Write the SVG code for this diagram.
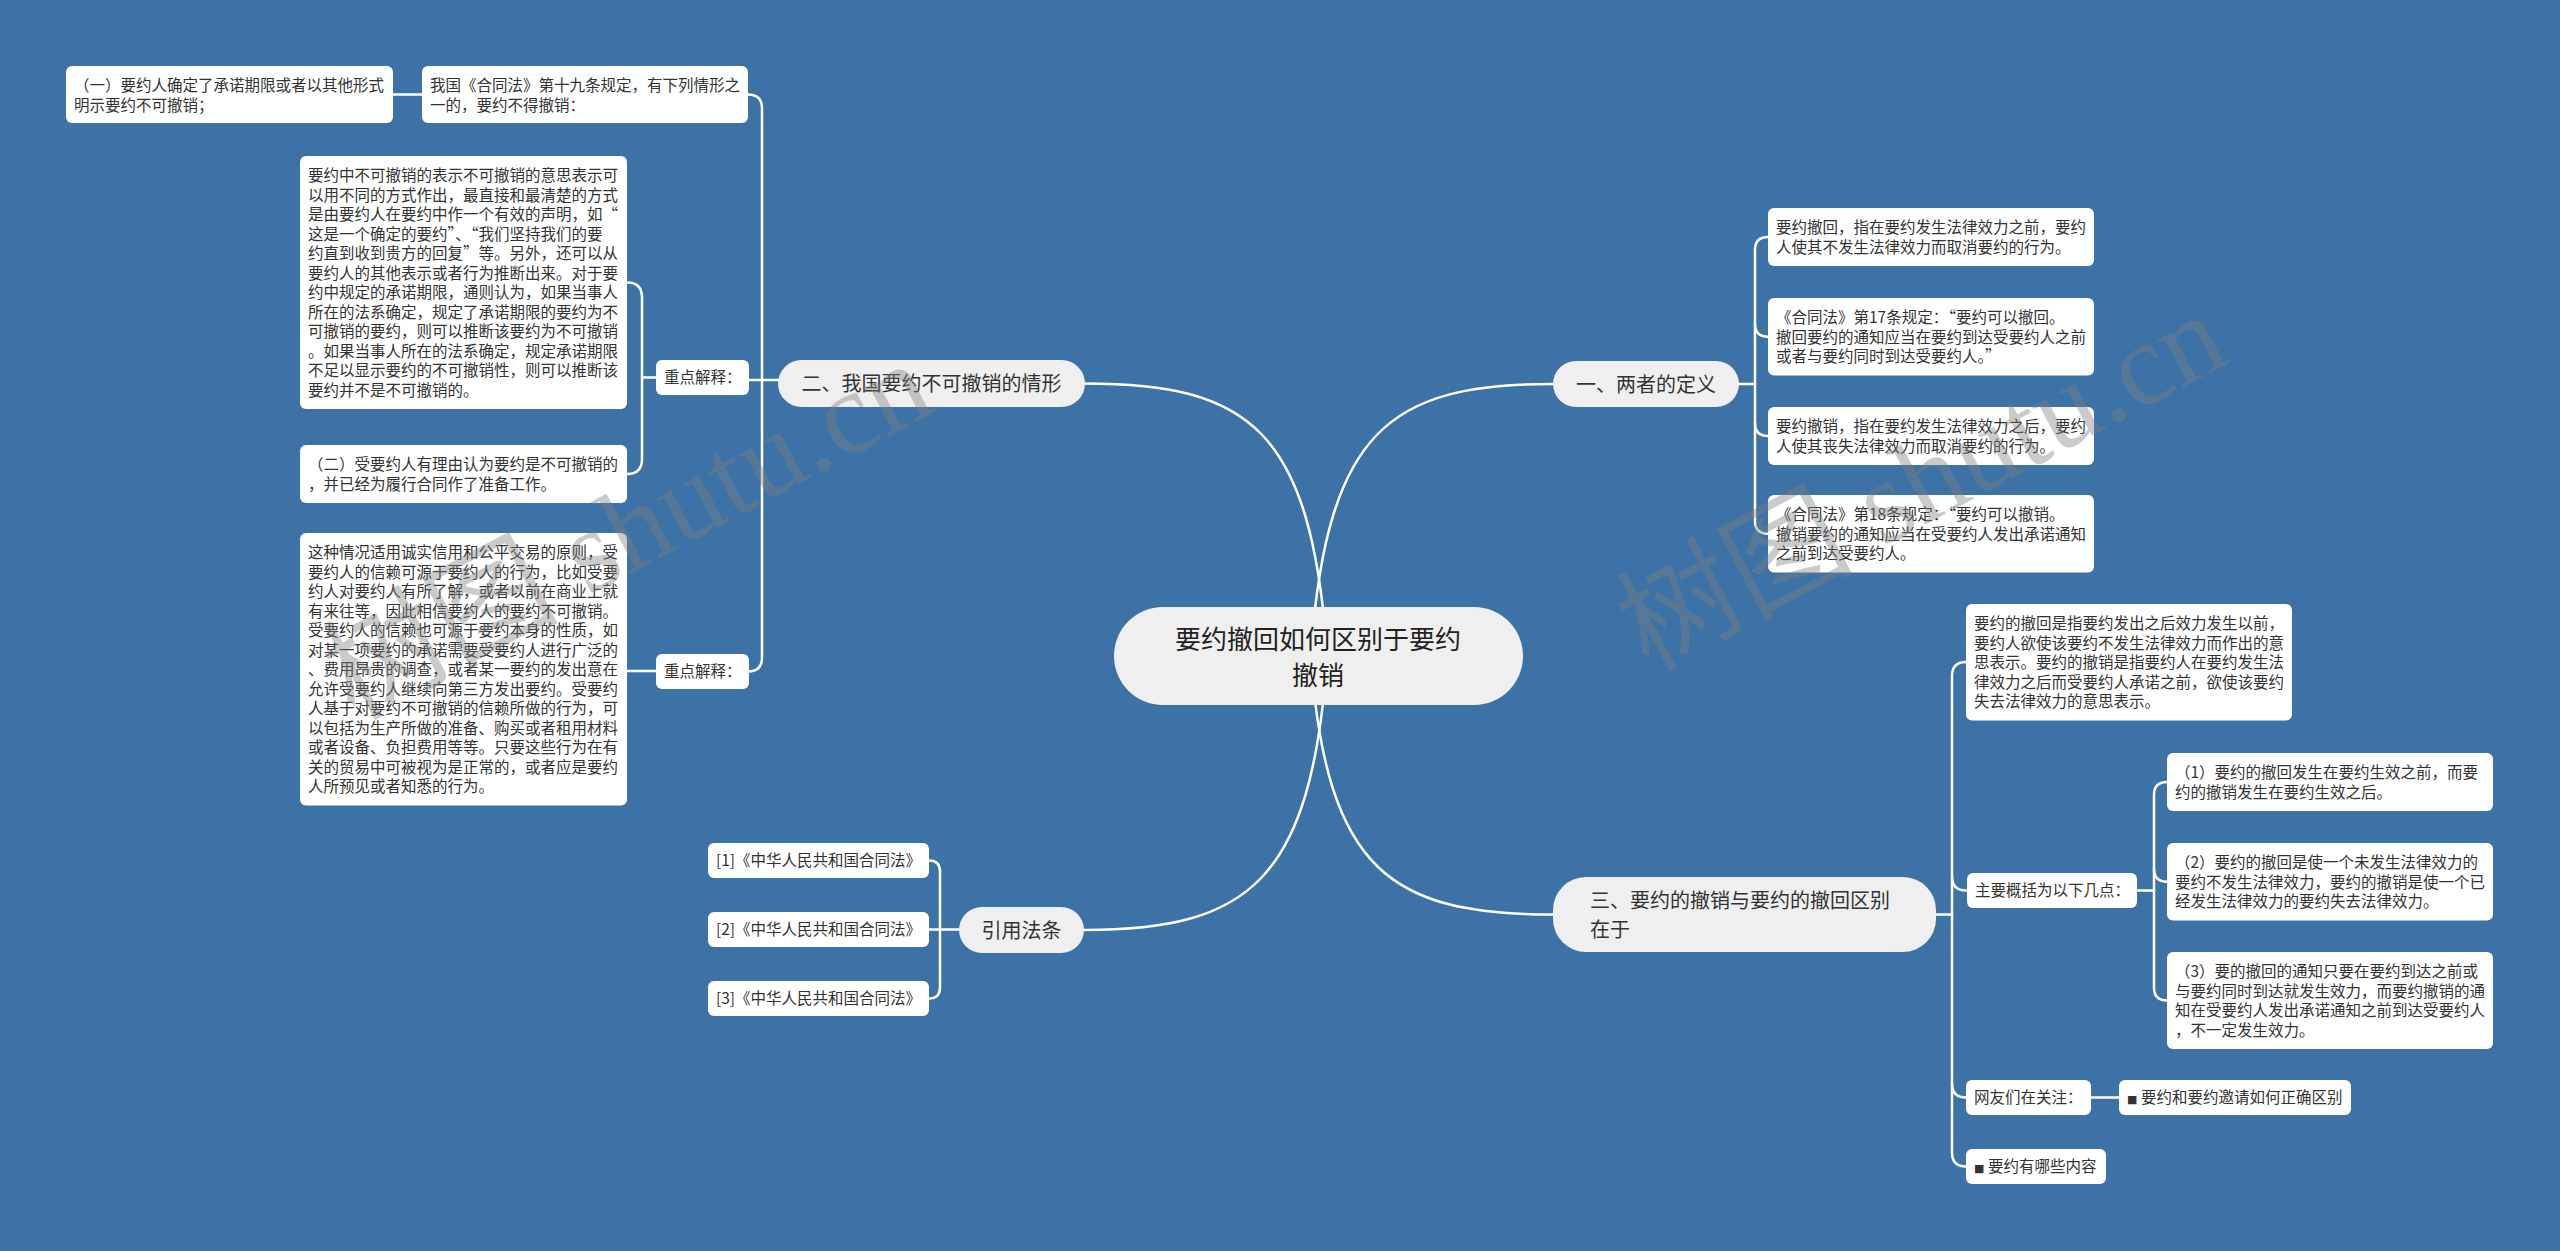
<svg xmlns="http://www.w3.org/2000/svg" width="2560" height="1251" viewBox="0 0 2560 1251">
<style>
.box{fill:#ffffff;}
.pill{fill:#efefef;}
.t{font-family:"Noto Sans CJK SC","Noto Sans",sans-serif;font-size:15.5px;fill:#333333;}
.tm{font-family:"Noto Sans CJK SC","Noto Sans",sans-serif;font-size:20px;fill:#333333;}
.tc{font-family:"Noto Sans CJK SC","Noto Sans",sans-serif;font-size:26px;fill:#222222;text-anchor:middle;}
.sq{font-family:"DejaVu Sans",sans-serif;font-size:11px;}
.c{fill:none;stroke:#ffffff;stroke-width:2.5;stroke-linecap:round;}
.wm{font-family:"Liberation Serif","Noto Sans CJK SC",serif;font-size:118px;fill:#808080;opacity:0.4;}
</style>
<rect x="0" y="0" width="2560" height="1251" fill="#3c72a6"/>

<g id="connectors">
  <path class="c" d="M1327,650 C1310,430 1250,383.5 1085,383.5"/>
  <path class="c" d="M1311,650 C1328,430 1390,384 1553,384"/>
  <path class="c" d="M1327,662 C1310,880 1250,930 1084,930"/>
  <path class="c" d="M1311,662 C1328,870 1390,914.5 1553,914.5"/>
  <path class="c" d="M748,94.5 Q762,94.5 762,108.5 L762,657.5 Q762,671.5 748,671.5"/>
  <path class="c" d="M748,380 L778,380"/>
  <path class="c" d="M393,94.5 L422,94.5"/>
  <path class="c" d="M627,282.5 Q642,282.5 642,297.5 L642,459 Q642,474 627,474"/>
  <path class="c" d="M642,377.5 L656,377.5"/>
  <path class="c" d="M627,671 L656,671"/>
  <path class="c" d="M929,860.5 Q940,860.5 940,871.5 L940,987.5 Q940,998.5 929,998.5"/>
  <path class="c" d="M929,929.5 L959,929.5"/>
  <path class="c" d="M1768,237 Q1755,237 1755,250 L1755,520.75 Q1755,533.75 1768,533.75"/>
  <path class="c" d="M1755,323.75 Q1755,336.75 1768,336.75"/>
  <path class="c" d="M1755,423 Q1755,436 1768,436"/>
  <path class="c" d="M1739,384 L1755,384"/>
  <path class="c" d="M1966,662 Q1952,662 1952,676 L1952,1152.5 Q1952,1166.5 1966,1166.5"/>
  <path class="c" d="M1952,876.5 Q1952,890.5 1966,890.5"/>
  <path class="c" d="M1952,1083.5 Q1952,1097.5 1966,1097.5"/>
  <path class="c" d="M1936,914.5 L1952,914.5"/>
  <path class="c" d="M2167,782 Q2154,782 2154,795 L2154,987.5 Q2154,1000.5 2167,1000.5"/>
  <path class="c" d="M2154,868.75 Q2154,881.75 2167,881.75"/>
  <path class="c" d="M2137,890.5 L2154,890.5"/>
  <path class="c" d="M2091,1097.5 L2119,1097.5"/>
</g>

<g id="center">
  <rect class="pill" x="1114" y="607" width="409" height="98" rx="49"/>
  <text class="tc" x="1318" y="649">要约撤回如何区别于要约</text>
  <text class="tc" x="1318" y="685">撤销</text>
</g>

<g id="b2">
  <rect class="pill" x="778" y="360" width="307" height="47" rx="23.5"/>
  <text class="tm" x="931.5" y="391" text-anchor="middle">二、我国要约不可撤销的情形</text>
</g>
<g id="a2">
  <rect class="box" x="422" y="66" width="326" height="57" rx="6"/>
  <text class="t" x="430" y="91">我国《合同法》第十九条规定，有下列情形之<tspan x="430" dy="19.5">一的，要约不得撤销：</tspan></text>
</g>
<g id="a1">
  <rect class="box" x="66" y="66" width="327" height="57" rx="6"/>
  <text class="t" x="74" y="91">（一）要约人确定了承诺期限或者以其他形式<tspan x="74" dy="19.5">明示要约不可撤销；</tspan></text>
</g>
<g id="k1">
  <rect class="box" x="656" y="360" width="93" height="35" rx="6"/>
  <text class="t" x="664" y="383.4">重点解释：</text>
</g>
<g id="a3">
  <rect class="box" x="300" y="156" width="327" height="253" rx="6"/>
  <text class="t" x="308" y="181">要约中不可撤销的表示不可撤销的意思表示可<tspan x="308" dy="19.5">以用不同的方式作出，最直接和最清楚的方式</tspan><tspan x="308" dy="19.5">是由要约人在要约中作一个有效的声明，如“</tspan><tspan x="308" dy="19.5">这是一个确定的要约”、“我们坚持我们的要</tspan><tspan x="308" dy="19.5">约直到收到贵方的回复”等。另外，还可以从</tspan><tspan x="308" dy="19.5">要约人的其他表示或者行为推断出来。对于要</tspan><tspan x="308" dy="19.5">约中规定的承诺期限，通则认为，如果当事人</tspan><tspan x="308" dy="19.5">所在的法系确定，规定了承诺期限的要约为不</tspan><tspan x="308" dy="19.5">可撤销的要约，则可以推断该要约为不可撤销</tspan><tspan x="308" dy="19.5">。如果当事人所在的法系确定，规定承诺期限</tspan><tspan x="308" dy="19.5">不足以显示要约的不可撤销性，则可以推断该</tspan><tspan x="308" dy="19.5">要约并不是不可撤销的。</tspan></text>
</g>
<g id="a4">
  <rect class="box" x="300" y="445" width="327" height="58" rx="6"/>
  <text class="t" x="308" y="470">（二）受要约人有理由认为要约是不可撤销的<tspan x="308" dy="19.5">，并已经为履行合同作了准备工作。</tspan></text>
</g>
<g id="k2">
  <rect class="box" x="656" y="654" width="93" height="35" rx="6"/>
  <text class="t" x="664" y="677.4">重点解释：</text>
</g>
<g id="a5">
  <rect class="box" x="300" y="533" width="327" height="272.5" rx="6"/>
  <text class="t" x="308" y="558">这种情况适用诚实信用和公平交易的原则，受<tspan x="308" dy="19.5">要约人的信赖可源于要约人的行为，比如受要</tspan><tspan x="308" dy="19.5">约人对要约人有所了解，或者以前在商业上就</tspan><tspan x="308" dy="19.5">有来往等，因此相信要约人的要约不可撤销。</tspan><tspan x="308" dy="19.5">受要约人的信赖也可源于要约本身的性质，如</tspan><tspan x="308" dy="19.5">对某一项要约的承诺需要受要约人进行广泛的</tspan><tspan x="308" dy="19.5">、费用昂贵的调查，或者某一要约的发出意在</tspan><tspan x="308" dy="19.5">允许受要约人继续向第三方发出要约。受要约</tspan><tspan x="308" dy="19.5">人基于对要约不可撤销的信赖所做的行为，可</tspan><tspan x="308" dy="19.5">以包括为生产所做的准备、购买或者租用材料</tspan><tspan x="308" dy="19.5">或者设备、负担费用等等。只要这些行为在有</tspan><tspan x="308" dy="19.5">关的贸易中可被视为是正常的，或者应是要约</tspan><tspan x="308" dy="19.5">人所预见或者知悉的行为。</tspan></text>
</g>

<g id="refs">
  <rect class="pill" x="959" y="907" width="125" height="46" rx="23"/>
  <text class="tm" x="1021.5" y="937.6" text-anchor="middle">引用法条</text>
</g>
<g id="ref1">
  <rect class="box" x="708" y="843" width="221" height="35" rx="6"/>
  <text class="t" x="716" y="866.4">[1]《中华人民共和国合同法》</text>
</g>
<g id="ref2">
  <rect class="box" x="708" y="912" width="221" height="35" rx="6"/>
  <text class="t" x="716" y="935.4">[2]《中华人民共和国合同法》</text>
</g>
<g id="ref3">
  <rect class="box" x="708" y="981" width="221" height="35" rx="6"/>
  <text class="t" x="716" y="1004.4">[3]《中华人民共和国合同法》</text>
</g>

<g id="b1">
  <rect class="pill" x="1553" y="361" width="186" height="46" rx="23"/>
  <text class="tm" x="1646" y="391.6" text-anchor="middle">一、两者的定义</text>
</g>
<g id="r1">
  <rect class="box" x="1768" y="208" width="326" height="58" rx="6"/>
  <text class="t" x="1776" y="233">要约撤回，指在要约发生法律效力之前，要约<tspan x="1776" dy="19.5">人使其不发生法律效力而取消要约的行为。</tspan></text>
</g>
<g id="r2">
  <rect class="box" x="1768" y="298" width="326" height="77.5" rx="6"/>
  <text class="t" x="1776" y="323">《合同法》第17条规定：“要约可以撤回。<tspan x="1776" dy="19.5">撤回要约的通知应当在要约到达受要约人之前</tspan><tspan x="1776" dy="19.5">或者与要约同时到达受要约人。”</tspan></text>
</g>
<g id="r3">
  <rect class="box" x="1768" y="407" width="326" height="58" rx="6"/>
  <text class="t" x="1776" y="432">要约撤销，指在要约发生法律效力之后，要约<tspan x="1776" dy="19.5">人使其丧失法律效力而取消要约的行为。</tspan></text>
</g>
<g id="r4">
  <rect class="box" x="1768" y="495" width="326" height="77.5" rx="6"/>
  <text class="t" x="1776" y="520">《合同法》第18条规定：“要约可以撤销。<tspan x="1776" dy="19.5">撤销要约的通知应当在受要约人发出承诺通知</tspan><tspan x="1776" dy="19.5">之前到达受要约人。</tspan></text>
</g>

<g id="b3">
  <rect class="pill" x="1553" y="877" width="383" height="75" rx="33"/>
  <text class="tm" x="1590" y="907.6">三、要约的撤销与要约的撤回区别<tspan x="1590" dy="29">在于</tspan></text>
</g>
<g id="r5">
  <rect class="box" x="1966" y="604" width="326" height="116.5" rx="6"/>
  <text class="t" x="1974" y="629">要约的撤回是指要约发出之后效力发生以前，<tspan x="1974" dy="19.5">要约人欲使该要约不发生法律效力而作出的意</tspan><tspan x="1974" dy="19.5">思表示。要约的撤销是指要约人在要约发生法</tspan><tspan x="1974" dy="19.5">律效力之后而受要约人承诺之前，欲使该要约</tspan><tspan x="1974" dy="19.5">失去法律效力的意思表示。</tspan></text>
</g>
<g id="m0">
  <rect class="box" x="1967" y="873" width="170" height="35" rx="6"/>
  <text class="t" x="1975" y="896.4">主要概括为以下几点：</text>
</g>
<g id="m1">
  <rect class="box" x="2167" y="753" width="326" height="58" rx="6"/>
  <text class="t" x="2175" y="778">（1）要约的撤回发生在要约生效之前，而要<tspan x="2175" dy="19.5">约的撤销发生在要约生效之后。</tspan></text>
</g>
<g id="m2">
  <rect class="box" x="2167" y="843" width="326" height="77.5" rx="6"/>
  <text class="t" x="2175" y="868">（2）要约的撤回是使一个未发生法律效力的<tspan x="2175" dy="19.5">要约不发生法律效力，要约的撤销是使一个已</tspan><tspan x="2175" dy="19.5">经发生法律效力的要约失去法律效力。</tspan></text>
</g>
<g id="m3">
  <rect class="box" x="2167" y="952" width="326" height="97" rx="6"/>
  <text class="t" x="2175" y="977">（3）要的撤回的通知只要在要约到达之前或<tspan x="2175" dy="19.5">与要约同时到达就发生效力，而要约撤销的通</tspan><tspan x="2175" dy="19.5">知在受要约人发出承诺通知之前到达受要约人</tspan><tspan x="2175" dy="19.5">，不一定发生效力。</tspan></text>
</g>
<g id="w0">
  <rect class="box" x="1966" y="1080" width="125" height="35" rx="6"/>
  <text class="t" x="1974" y="1103.4">网友们在关注：</text>
</g>
<g id="w1">
  <rect class="box" x="2119" y="1080" width="232" height="35" rx="6"/>
  <text class="t" x="2127" y="1103.4"><tspan class="sq">■</tspan> 要约和要约邀请如何正确区别</text>
</g>
<g id="w2">
  <rect class="box" x="1966" y="1149" width="140" height="35" rx="6"/>
  <text class="t" x="1974" y="1172.4"><tspan class="sq">■</tspan> 要约有哪些内容</text>
</g>

<g id="watermarks">
  <text class="wm" transform="translate(938,410) rotate(-28)" text-anchor="end">树图 shutu.cn</text>
  <text class="wm" transform="translate(1648,672) rotate(-28)">树图 shutu.cn</text>
</g>
</svg>
